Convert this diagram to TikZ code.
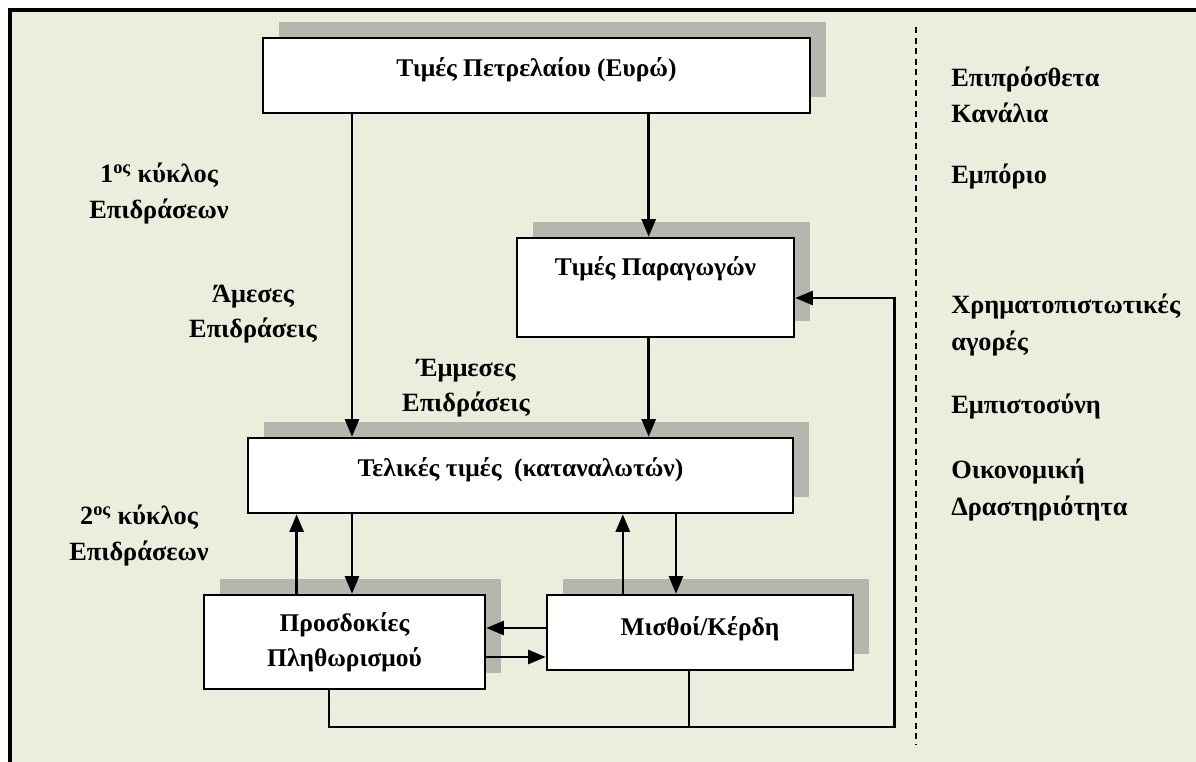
\documentclass[tikz,border=0pt]{standalone}
\usepackage{fontspec}
\setmainfont{Liberation Serif}
\usetikzlibrary{arrows.meta,shadows}
\definecolor{bggreen}{RGB}{233,239,220}
\definecolor{shgray}{RGB}{180,183,173}

\begin{document}
\begin{tikzpicture}[x=0.02cm,y=-0.02cm,
	box/.style={draw,fill=white,line width=1.5pt,inner sep=0pt,align=center,font=\bfseries\fontsize{14.5}{20}\selectfont,
		drop shadow={shadow xshift=9.2pt,shadow yshift=9.2pt,fill=shgray,opacity=1}},
	lift/.style={text height=10pt,text depth=#1},
	arr/.style={line width=1.4pt,-{Triangle[length=10pt,width=8pt]}},
	lbl/.style={font=\bfseries\fontsize{15}{20}\selectfont,align=center},
	side/.style={font=\bfseries\fontsize{15}{20.5}\selectfont,align=left,anchor=west,inner sep=0pt}]
	\useasboundingbox (0,0) rectangle (1196,761);
	\fill[bggreen] (10,10) rectangle (1200,765);
	\draw[line width=1.8pt] (10,765) -- (10,10) -- (1200,10);

	\node[box,lift=9.2pt,minimum width=10.94cm,minimum height=1.5cm] (petr) at (536.5,75.5) {Τιμές Πετρελαίου (Ευρώ)};
	\node[box,lift=23.4pt,minimum width=5.54cm,minimum height=1.98cm] (prod) at (655.5,287.5) {Τιμές Παραγωγών};
	\node[box,lift=9.2pt,minimum width=10.9cm,minimum height=1.5cm] (tel) at (520.5,475.5) {Τελικές τιμές\ \ (καταναλωτών)};
	\node[box,minimum width=5.62cm,minimum height=1.88cm] (exp) at (344.5,642) {Προσδοκίες\\Πληθωρισμού};
	\node[box,lift=7pt,minimum width=6.12cm,minimum height=1.5cm] (wage) at (700,632.5) {Μισθοί/Κέρδη};

	\node[lbl] (cyc1) at (159,193.5) {1\textsuperscript{ος} κύκλος\\Επιδράσεων};
	\node[lbl] (dir) at (253,314) {Άμεσες\\Επιδράσεις};
	\node[lbl] (ind) at (466,388) {Έμμεσες\\Επιδράσεις};
	\node[lbl] (cyc2) at (139,535.5) {2\textsuperscript{ος} κύκλος\\Επιδράσεων};

	\draw[line width=1.2pt,dash pattern=on 3.5pt off 2.5pt] (915.6,27) -- (915.6,745);
	\node[side] (chan) at (951,95) {Επιπρόσθετα\\Κανάλια};
	\node[side] (trade) at (951,177) {Εμπόριο};
	\node[side] (fin) at (951,325) {Χρηματοπιστωτικές\\αγορές};
	\node[side] (trust) at (951,407) {Εμπιστοσύνη};
	\node[side] (econ) at (951,490) {Οικονομική\\Δραστηριότητα};

	\coordinate (va) at (352,0);
	\coordinate (vb) at (648.7,0);
	\coordinate (vc) at (296.6,0);
	\coordinate (vd) at (622.8,0);
	\coordinate (ve) at (676,0);
	\coordinate (vf) at (329,727);
	\coordinate (vg) at (689,727);
	\coordinate (fb) at (894.7,298);
	\coordinate (ha) at (0,628);
	\coordinate (hb) at (0,657);

	\draw[arr] (va |- petr.south) -- (va |- tel.north);
	\draw[arr] (vb |- petr.south) -- (vb |- prod.north);
	\draw[arr] (vb |- prod.south) -- (vb |- tel.north);
	\draw[arr] (vc |- exp.north) -- (vc |- tel.south);
	\draw[arr] (va |- tel.south) -- (va |- exp.north);
	\draw[arr] (vd |- wage.north) -- (vd |- tel.south);
	\draw[arr] (ve |- tel.south) -- (ve |- wage.north);
	\draw[arr] (ha -| wage.west) -- (ha -| exp.east);
	\draw[arr] (hb -| exp.east) -- (hb -| wage.west);
	\draw[line width=1.4pt] (vg |- wage.south) -- (vg);
	\draw[arr] (vf |- exp.south) -- (vf) -| (fb) -- (fb -| prod.east);
\end{tikzpicture}
\end{document}
